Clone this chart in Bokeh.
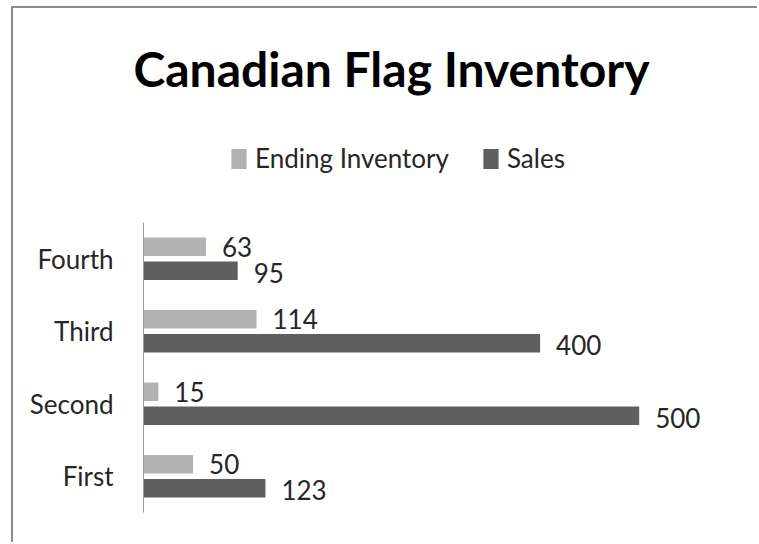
from bokeh.plotting import figure
from bokeh.models import ColumnDataSource, Range1d, Legend, LegendItem, FixedTicker
from bokeh.transform import dodge
from bokeh.core.properties import value
from bokeh.embed import file_html
from bokeh.resources import INLINE

quarters = ["First", "Second", "Third", "Fourth"]
ending_inventory = [50, 15, 114, 63]
sales = [123, 500, 400, 95]

FONT = "Lato"
LIGHT = "#b2b2b2"
DARK = "#5f5f5f"
TEXT = "#262626"

idx = list(range(len(quarters)))
src = ColumnDataSource(dict(
    idx=idx,
    q=quarters,
    inv=ending_inventory,
    sales=sales,
    inv_lbl=[str(v) for v in ending_inventory],
    sales_lbl=[str(v) for v in sales],
))

p = figure(
    width=746, height=536,
    y_range=Range1d(-0.5, len(quarters) - 0.5 + 1.67),
    x_range=Range1d(0, 582),
    output_backend="svg", toolbar_location=None,
    min_border_left=130, min_border_right=39, min_border_top=93, min_border_bottom=32,
    styles={"margin-left": "11px", "margin-top": "6px",
            "border-top": "2px solid #8c8c8c", "border-left": "2px solid #8c8c8c"},
)
p.title.text = "Canadian Flag Inventory"
p.title.align = "left"
p.title.offset = -10
p.title.text_font = FONT
p.title.text_font_style = "bold"
p.title.text_font_size = "48px"
p.title.text_color = "black"
p.outline_line_color = None
p.background_fill_color = "white"
p.border_fill_color = "white"
p.grid.visible = False

r_inv = p.hbar(y=dodge("idx", 0.165), right="inv", left=0, height=0.255,
               source=src, fill_color=LIGHT, line_color=None)
r_sales = p.hbar(y=dodge("idx", -0.165), right="sales", left=0, height=0.255,
                 source=src, fill_color=DARK, line_color=None)

p.text(x="inv", y=dodge("idx", 0.165), text="inv_lbl", source=src,
       x_offset=16, text_baseline="middle", text_align="left",
       text_font=value(FONT), text_font_size="26px", text_color=TEXT)
p.text(x="sales", y=dodge("idx", -0.165), text="sales_lbl", source=src,
       x_offset=16, y_offset=2, text_baseline="middle", text_align="left",
       text_font=value(FONT), text_font_size="26px", text_color=TEXT)

p.xaxis.visible = False
ya = p.yaxis[0]
ya.ticker = FixedTicker(ticks=idx)
ya.major_label_overrides = {i: q for i, q in zip(idx, quarters)}
ya.bounds = (-0.5, len(quarters) - 0.5)
ya.axis_line_color = "#9a9a9a"
ya.axis_line_width = 1
ya.major_tick_line_color = None
ya.minor_tick_line_color = None
ya.major_label_standoff = 24
ya.major_label_text_font = FONT
ya.major_label_text_font_size = "26px"
ya.major_label_text_color = TEXT

legend = Legend(items=[LegendItem(label="Ending Inventory", renderers=[r_inv]),
                       LegendItem(label="Sales", renderers=[r_sales])],
                orientation="horizontal", location=(86, 338),
                label_text_font=FONT, label_text_font_size="26px", label_text_color=TEXT,
                glyph_width=19, glyph_height=25, spacing=32, label_standoff=7,
                padding=0, margin=0, border_line_color=None, background_fill_alpha=0)
p.add_layout(legend, "center")

open("out.html", "w").write(file_html(p, INLINE))
